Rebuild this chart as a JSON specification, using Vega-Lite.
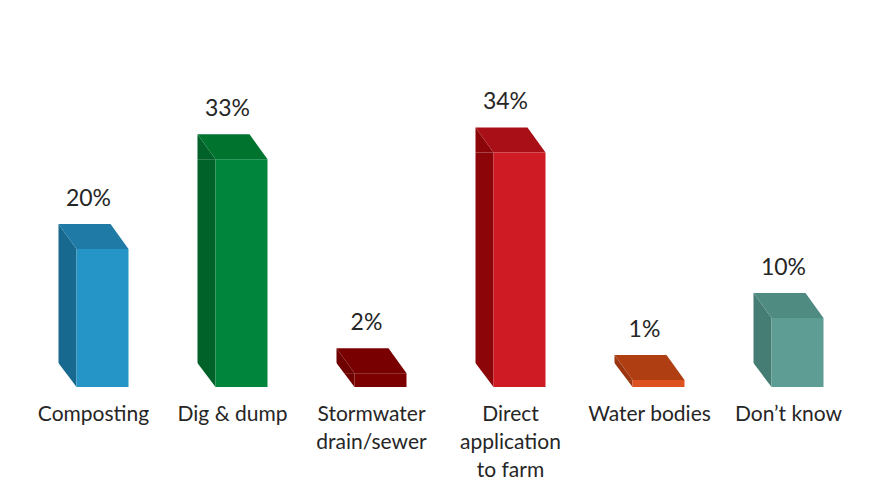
{
  "$schema": "https://vega.github.io/schema/vega-lite/v6.json",
  "width": 834,
  "height": 345,
  "autosize": "none",
  "padding": {"left": 24, "top": 42, "right": 12, "bottom": 100},
  "background": "white",
  "config": {"view": {"stroke": null}, "font": "Lato"},
  "data": {
    "values": [
      {"cat": "Composting", "share": 0.20},
      {"cat": "Dig & dump", "share": 0.33},
      {"cat": "Stormwater\ndrain/sewer", "share": 0.02},
      {"cat": "Direct\napplication\nto farm", "share": 0.34},
      {"cat": "Water bodies", "share": 0.01},
      {"cat": "Don’t know", "share": 0.10}
    ]
  },
  "encoding": {
    "x": {
      "field": "cat",
      "type": "nominal",
      "sort": null,
      "scale": {"paddingInner": 0, "paddingOuter": 0},
      "axis": {
        "title": null,
        "domain": false,
        "ticks": false,
        "labelAngle": 0,
        "labelFont": "Lato",
        "labelFontSize": 21,
        "labelColor": "#262626",
        "labelPadding": 16,
        "labelLineHeight": 28,
        "labelOverlap": false,
        "labelExpr": "split(datum.label, '\\n')"
      }
    },
    "y": {
      "field": "share",
      "type": "quantitative",
      "scale": {"domain": [0, 0.5]},
      "axis": null
    }
  },
  "layer": [
    {
      "mark": {"type": "bar", "width": 18, "xOffset": -26},
      "encoding": {
        "color": {
          "field": "cat", "type": "nominal", "sort": null, "legend": null,
          "scale": {"range": ["#17698F", "#006129", "#6E0000", "#8C0509", "#9A3510", "#457D74"]}
        }
      }
    },
    {
      "mark": {"type": "point", "filled": true, "opacity": 1, "size": 4, "strokeWidth": 0,
               "shape": "M-35,-25 L-17,0 L-35,0 Z"},
      "encoding": {
        "color": {
          "field": "cat", "type": "nominal", "sort": null, "legend": null,
          "scale": {"range": ["#17698F", "#006129", "#6E0000", "#8C0509", "#9A3510", "#457D74"]}
        }
      }
    },
    {
      "mark": {"type": "point", "filled": true, "opacity": 1, "size": 4, "strokeWidth": 0,
               "color": "white", "shape": "M-36,-25.2 L-17,0 L-17,1 L-36,1 Z"},
      "encoding": {"y": {"datum": 0, "type": "quantitative"}}
    },
    {
      "mark": {"type": "point", "filled": true, "opacity": 1, "size": 4, "strokeWidth": 0,
               "shape": "M-17,0 L35,0 L17,-25 L-35,-25 Z"},
      "encoding": {
        "color": {
          "field": "cat", "type": "nominal", "sort": null, "legend": null,
          "scale": {"range": ["#1F7AA6", "#00732F", "#780000", "#A80F16", "#AF3F12", "#508B82"]}
        }
      }
    },
    {
      "mark": {"type": "bar", "width": 52, "xOffset": 9},
      "encoding": {
        "color": {
          "field": "cat", "type": "nominal", "sort": null, "legend": null,
          "scale": {"range": ["#2595C8", "#00853D", "#7C0000", "#CF1B24", "#DC5220", "#5E9D93"]}
        }
      }
    },
    {
      "mark": {"type": "text", "font": "Lato", "fontSize": 23, "color": "#262626",
               "baseline": "alphabetic", "dy": -43, "dx": -5},
      "encoding": {"text": {"field": "share", "type": "quantitative", "format": ".0%"}}
    }
  ],
  "resolve": {"scale": {"color": "independent"}}
}
